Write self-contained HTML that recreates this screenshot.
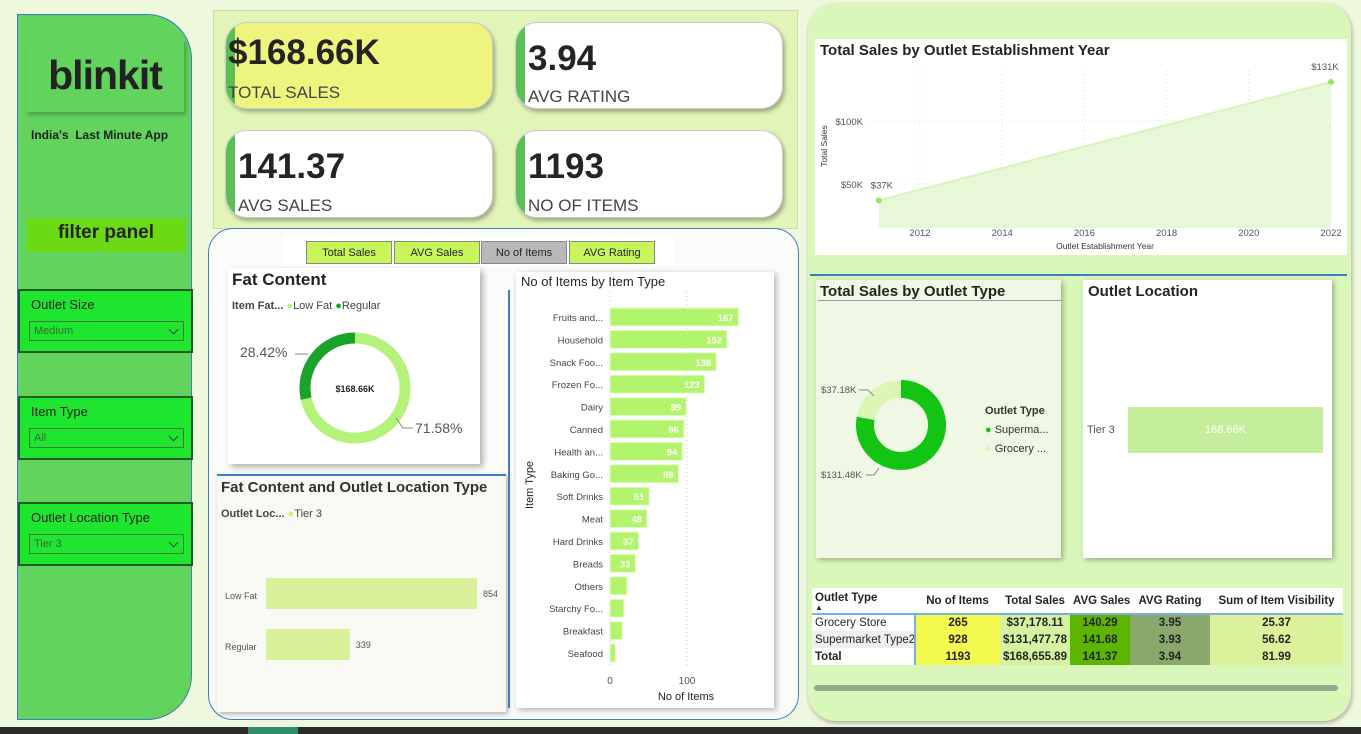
<!DOCTYPE html>
<html><head><meta charset="utf-8">
<style>
*{box-sizing:border-box;margin:0;padding:0}
body{width:1361px;height:734px;overflow:hidden;background:#eef8dc;font-family:"Liberation Sans","DejaVu Sans",sans-serif;position:relative;color:#252423}
.a{position:absolute}
.card{position:absolute;background:#fff;border-radius:22px;box-shadow:2px 3px 4px rgba(0,0,0,.3);overflow:hidden;border:1px solid #ccc}
.card .bar{position:absolute;left:0;top:0;bottom:0;width:9px;background:#5cbf55}
.card .v{position:absolute;left:12px;top:12px;font-size:35px;font-weight:bold;color:#252423}
.card .l{position:absolute;left:12px;bottom:1px;font-size:17px;color:#444}
.filt{position:absolute;left:18px;width:175px;height:64px;background:#1ee62e;border:2px solid #215c21}
.filt .t{position:absolute;left:11px;top:6px;font-size:13px;color:#222}
.filt .dd{position:absolute;left:9px;top:30px;width:155px;height:20px;border:1px solid #3a7a3a;font-size:11px;color:#3b6a3b;padding:3px 4px}
.filt .dd:after{content:"";position:absolute;right:6px;top:4px;width:6px;height:6px;border-right:1px solid #444;border-bottom:1px solid #444;transform:rotate(45deg)}
.btn{position:absolute;top:241px;height:23px;font-size:11px;text-align:center;line-height:23px;border:1px solid #888;background:#c8f55a}
table{border-collapse:collapse;font-size:11.5px;table-layout:fixed;white-space:nowrap}
td{height:17px;padding:0 3px;overflow:hidden}
</style></head><body>
<div class="a" style="left:17px;top:14px;width:175px;height:706px;background:#62d45e;border:1px solid #3a7fc0;border-radius:0 45px 45px 0"></div>
<div class="a" style="left:26px;top:39px;width:158px;height:73px;background:#62d45e;box-shadow:2px 3px 4px rgba(0,0,0,.25);font-size:41px;font-weight:bold;text-align:center;line-height:73px;color:#222;letter-spacing:-1px">blinkit</div>
<div class="a" style="left:31px;top:128px;font-size:12px;font-weight:bold;color:#222">India's&nbsp; Last Minute App</div>
<div class="a" style="left:27px;top:218px;width:158px;height:34px;background:#6cd915;font-size:19px;font-weight:bold;text-align:center;line-height:30px">filter panel</div>
<div class="filt" style="top:289px"><div class="t">Outlet Size</div><div class="dd">Medium</div></div>
<div class="filt" style="top:396px"><div class="t">Item Type</div><div class="dd">All</div></div>
<div class="filt" style="top:502px"><div class="t">Outlet Location Type</div><div class="dd">Tier 3</div></div>

<div class="a" style="left:213px;top:10px;width:585px;height:219px;background:#e2f5b8;border:1px solid #c9dca5"></div>
<div class="card" style="left:225px;top:22px;width:268px;height:87px;background:#eef57f"><div class="bar"></div><div class="v" style="left:2px;top:10px">$168.66K</div><div class="l" style="left:2px;bottom:5px">TOTAL SALES</div></div>
<div class="card" style="left:515px;top:22px;width:268px;height:87px"><div class="bar"></div><div class="v" style="top:16px">3.94</div><div class="l">AVG RATING</div></div>
<div class="card" style="left:225px;top:130px;width:268px;height:88px"><div class="bar"></div><div class="v" style="top:16px">141.37</div><div class="l">AVG SALES</div></div>
<div class="card" style="left:515px;top:130px;width:268px;height:88px"><div class="bar"></div><div class="v" style="top:16px">1193</div><div class="l">NO OF ITEMS</div></div>

<div class="a" style="left:208px;top:228px;width:591px;height:492px;background:#fbfbf9;border:1px solid #3a7fc0;border-radius:25px"></div>
<div class="a" style="left:284px;top:236px;width:390px;height:30px;background:#fff"></div>
<div class="btn" style="left:306px;width:86px">Total Sales</div>
<div class="btn" style="left:394px;width:86px">AVG Sales</div>
<div class="btn" style="left:481px;width:86px;background:#b8b8b8">No of Items</div>
<div class="btn" style="left:569px;width:86px">AVG Rating</div>

<div class="a" style="left:228px;top:268px;width:252px;height:196px;background:#fff;box-shadow:3px 3px 6px rgba(0,0,0,.3)"></div>
<div class="a" style="left:232px;top:270px;font-size:17px;font-weight:bold">Fat Content</div>
<div class="a" style="left:232px;top:300px;font-size:11px;color:#444"><b>Item Fat...</b> <span style="color:#b5f27a">●</span>Low Fat <span style="color:#1aa32a">●</span>Regular</div>
<svg class="a" style="left:228px;top:268px" width="252" height="196" id="fatsvg"></svg>

<div class="a" style="left:217px;top:474px;width:289px;height:238px;background:#f8f8f5;box-shadow:2px 2px 5px rgba(0,0,0,.3);border-top:2px solid #3a7fc0"></div>
<div class="a" style="left:221px;top:479px;font-size:15px;font-weight:bold;color:#333">Fat Content and Outlet Location Type</div>
<div class="a" style="left:221px;top:508px;font-size:11px;color:#444"><b>Outlet Loc...</b> <span style="color:#c5f27a">●</span>Tier 3</div>
<svg class="a" style="left:217px;top:474px" width="289" height="238" id="flsvg"></svg>

<div class="a" style="left:516px;top:272px;width:258px;height:436px;background:#fff;box-shadow:2px 2px 6px rgba(0,0,0,.3)"></div>
<div class="a" style="left:508px;top:290px;width:2px;height:418px;background:#3a7fc0"></div>
<div class="a" style="left:521px;top:274px;font-size:13px">No of Items by Item Type</div>
<svg class="a" style="left:516px;top:272px" width="258" height="436" id="itsvg"></svg>

<div class="a" style="left:808px;top:3px;width:543px;height:718px;background:#d9f7b9;border-radius:28px;box-shadow:1px 2px 4px rgba(0,0,0,.3)"></div>
<div class="a" style="left:815px;top:39px;width:532px;height:216px;background:#fff"></div>
<div class="a" style="left:820px;top:42px;font-size:15px;font-weight:bold">Total Sales by Outlet Establishment Year</div>
<svg class="a" style="left:815px;top:39px" width="532" height="216" id="yrsvg"></svg>
<div class="a" style="left:810px;top:274px;width:537px;height:2px;background:#3a7fc0"></div>

<div class="a" style="left:816px;top:280px;width:245px;height:278px;background:#eef8e5;box-shadow:2px 2px 5px rgba(0,0,0,.3)"></div>
<div class="a" style="left:820px;top:283px;font-size:15px;font-weight:bold">Total Sales by Outlet Type</div>
<div class="a" style="left:818px;top:300px;width:243px;height:1px;background:#999"></div>
<svg class="a" style="left:816px;top:280px" width="245" height="278" id="otsvg"></svg>
<div class="a" style="left:985px;top:402px;font-size:11px;line-height:19px;color:#333"><b>Outlet Type</b><br><span style="color:#14c414">●</span> Superma...<br><span style="color:#dcf7b5">●</span> Grocery ...</div>

<div class="a" style="left:1083px;top:280px;width:249px;height:278px;background:#fff;box-shadow:2px 2px 5px rgba(0,0,0,.3)"></div>
<div class="a" style="left:1088px;top:283px;font-size:15px;font-weight:bold">Outlet Location</div>
<div class="a" style="left:1087px;top:424px;font-size:11px;color:#555">Tier 3</div>
<div class="a" style="left:1128px;top:407px;width:195px;height:46px;background:#c5ee9c;color:#fff;font-size:11px;text-align:center;line-height:46px">168.66K</div>

<div class="a" style="left:812px;top:588px;width:531px;background:#fff">
<table style="width:531px">
<colgroup><col style="width:103px"><col style="width:85px"><col style="width:70px"><col style="width:60px"><col style="width:80px"><col style="width:133px"></colgroup>
<tr style="font-weight:bold;height:26px;border-bottom:2px solid #7ab0e0;text-align:center"><td style="vertical-align:top;padding-top:4px;text-align:left">Outlet Type<div style="font-size:8px;line-height:7px">▲</div></td><td>No of Items</td><td>Total Sales</td><td>AVG Sales</td><td>AVG Rating</td><td>Sum of Item Visibility</td></tr>
<tr style="text-align:center"><td style="text-align:left;border-right:2px solid #7ab0e0">Grocery Store</td><td style="background:#f3f94e;font-weight:bold">265</td><td style="background:#d3f3a0;font-weight:bold">$37,178.11</td><td style="background:#5db500;font-weight:bold">140.29</td><td style="background:#8aa86c;font-weight:bold">3.95</td><td style="background:#dcf29a;font-weight:bold">25.37</td></tr>
<tr style="text-align:center"><td style="text-align:left;background:#eee;border-right:2px solid #7ab0e0">Supermarket Type2</td><td style="background:#f3f94e;font-weight:bold">928</td><td style="background:#d3f3a0;font-weight:bold">$131,477.78</td><td style="background:#5db500;font-weight:bold">141.68</td><td style="background:#8aa86c;font-weight:bold">3.93</td><td style="background:#dcf29a;font-weight:bold">56.62</td></tr>
<tr style="text-align:center;font-weight:bold"><td style="text-align:left;border-right:2px solid #7ab0e0">Total</td><td style="background:#f3f94e">1193</td><td style="background:#d3f3a0">$168,655.89</td><td style="background:#5db500">141.37</td><td style="background:#8aa86c">3.94</td><td style="background:#dcf29a">81.99</td></tr>
</table></div>
<div class="a" style="left:814px;top:685px;width:524px;height:6px;border-radius:3px;background:#9aa98e"></div>
<div class="a" style="left:0;top:727px;width:1361px;height:7px;background:#2b2b2b"></div>
<div class="a" style="left:248px;top:727px;width:50px;height:7px;background:#2f8a70"></div>

<script>
const NS="http://www.w3.org/2000/svg";
function mk(svg,tag,attrs,txt){const e=document.createElementNS(NS,tag);for(const k in attrs)e.setAttribute(k,attrs[k]);if(txt!==undefined)e.textContent=txt;svg.appendChild(e);return e;}
function arc(cx,cy,r,a0,a1){const p=a=>[cx+r*Math.sin(a),cy-r*Math.cos(a)];const[x0,y0]=p(a0),[x1,y1]=p(a1);return `M${x0} ${y0}A${r} ${r} 0 ${a1-a0>Math.PI?1:0} 1 ${x1} ${y1}`;}

const fatLabels=["Low Fat","Regular"];
const fatShares=[71.58,28.42];
const fatColors=["#b5f27a","#1aa32a"];
const flCats=["Low Fat","Regular"];
const flVals=[854,339];
const itemCats=["Fruits and...","Household","Snack Foo...","Frozen Fo...","Dairy","Canned","Health an...","Baking Go...","Soft Drinks","Meat","Hard Drinks","Breads","Others","Starchy Fo...","Breakfast","Seafood"];
const itemVals=[167,152,138,123,99,96,94,89,51,48,37,33,22,18,16,7];
const itemTicks=[0,100];
const years=[2011,2022];
const yearSales=[37,131];
const yearTicks=[2012,2014,2016,2018,2020,2022];
const salesTicks=[50,100];
const otLabels=["Supermarket Type2","Grocery Store"];
const otVals=[131.48,37.18];
const otColors=["#14c414","#dcf7b5"];

(function(){const s=document.getElementById('fatsvg');const cx=127,cy=120,r=50;let a=0;const tot=fatShares.reduce((x,y)=>x+y,0);
fatShares.forEach((v,i)=>{const a1=a+v/tot*2*Math.PI;const p=mk(s,'path',{d:arc(cx,cy,r,a,a1-0.0001),fill:'none',stroke:fatColors[i],'stroke-width':11});


a=a1;});
mk(s,'text',{x:cx,y:cy+4,'font-size':9,'text-anchor':'middle','font-weight':'bold',fill:'#222'},'$168.66K');
mk(s,'text',{x:12,y:89,'font-size':14,fill:'#555'},fatShares[1].toFixed(2)+'%');
mk(s,'path',{d:'M67 86 L80 86',stroke:'#888',fill:'none'});
mk(s,'text',{x:187,y:165,'font-size':14,fill:'#555'},fatShares[0].toFixed(2)+'%');
mk(s,'path',{d:'M168 150 L175 160 L185 160',stroke:'#888',fill:'none'});})();

(function(){const s=document.getElementById('flsvg');const x0=49,sc=211/854;
flCats.forEach((c,i)=>{const y=104+i*51;
mk(s,'text',{x:8,y:y+21,'font-size':9,fill:'#555'},c);
const b=mk(s,'rect',{x:x0,y:y,width:flVals[i]*sc,height:31,fill:'#d8f09a'});


mk(s,'text',{x:x0+flVals[i]*sc+6,y:y+19,'font-size':9,fill:'#555'},flVals[i]);});})();

(function(){const s=document.getElementById('itsvg');const x0=94,sc=77/100,top=36,step=22.4;
itemTicks.forEach(t=>{const x=x0+t*sc;mk(s,'line',{x1:x,x2:x,y1:20,y2:395,stroke:'#ccc','stroke-dasharray':'1 3'});
mk(s,'text',{x:x,y:412,'font-size':10,'text-anchor':'middle',fill:'#555'},t);});
itemCats.forEach((c,i)=>{const y=top+i*step;
mk(s,'text',{x:87,y:y+13,'font-size':9.5,'text-anchor':'end',fill:'#444'},c);
const b=mk(s,'rect',{x:x0,y:y,width:itemVals[i]*sc,height:18,fill:'#b2f56c',stroke:'#e6fbd0','stroke-width':1});


if(itemVals[i]>25)mk(s,'text',{x:x0+itemVals[i]*sc-5,y:y+13,'font-size':9.5,'text-anchor':'end',fill:'#fff','font-weight':'bold'},itemVals[i]);});
mk(s,'text',{x:170,y:428,'font-size':11,'text-anchor':'middle',fill:'#222'},'No of Items');
mk(s,'text',{x:0,y:0,'font-size':11,'text-anchor':'middle',fill:'#222',transform:'translate(17,213) rotate(-90)'},'Item Type');})();

(function(){const s=document.getElementById('yrsvg');const X=y=>105+(y-2012)*41.1,Y=v=>145-(v-50)*1.26,base=189;
yearTicks.forEach(t=>{mk(s,'line',{x1:X(t),x2:X(t),y1:32,y2:base,stroke:'#ddd','stroke-dasharray':'1 3'});
mk(s,'text',{x:X(t),y:197,'font-size':9.5,'text-anchor':'middle',fill:'#555'},t);});
salesTicks.forEach(t=>{mk(s,'line',{x1:55,x2:520,y1:Y(t),y2:Y(t),stroke:'#ddd','stroke-dasharray':'1 3'});
mk(s,'text',{x:48,y:Y(t)+4,'font-size':9.5,'text-anchor':'end',fill:'#555'},'$'+t+'K');});
let d='M'+X(years[0])+' '+base;years.forEach((y,i)=>d+=' L'+X(y)+' '+Y(yearSales[i]));d+=' L'+X(years[years.length-1])+' '+base+'Z';
const ar=mk(s,'path',{d:d,fill:'#e6f8d8'});


mk(s,'polyline',{points:years.map((y,i)=>X(y)+','+Y(yearSales[i])).join(' '),fill:'none',stroke:'#d8f5b8','stroke-width':2});
years.forEach((y,i)=>{const p=mk(s,'circle',{cx:X(y),cy:Y(yearSales[i]),r:3,fill:'#9be85a'});


mk(s,'text',{x:X(y)+(i==0?3:-6),y:Y(yearSales[i])-12,'font-size':9.5,'text-anchor':'middle',fill:'#555'},'$'+yearSales[i]+'K');});
mk(s,'text',{x:290,y:210,'font-size':8.5,'text-anchor':'middle',fill:'#333'},'Outlet Establishment Year');
mk(s,'text',{x:0,y:0,'font-size':8.5,'text-anchor':'middle',fill:'#333',transform:'translate(12,107) rotate(-90)'},'Total Sales');})();

(function(){const s=document.getElementById('otsvg');const cx=85,cy=145,r=36;const tot=otVals.reduce((a,b)=>a+b,0);
let a=-2*Math.PI*otVals[1]/tot;
const segs=[[otVals[1],otColors[1]],[otVals[0],otColors[0]]];
segs.forEach((sg,i)=>{const a1=a+sg[0]/tot*2*Math.PI;const p=mk(s,'path',{d:arc(cx,cy,r,a,a1-0.0001),fill:'none',stroke:sg[1],'stroke-width':18});


a=a1;});
mk(s,'text',{x:5,y:113,'font-size':9.5,fill:'#555'},'$'+otVals[1]+'K');
mk(s,'path',{d:'M43 110 L52 110 L58 116',stroke:'#888',fill:'none'});
mk(s,'text',{x:5,y:198,'font-size':9.5,fill:'#555'},'$'+otVals[0]+'K');
mk(s,'path',{d:'M50 195 L58 195 L63 188',stroke:'#888',fill:'none'});})();
</script>
</body></html>
